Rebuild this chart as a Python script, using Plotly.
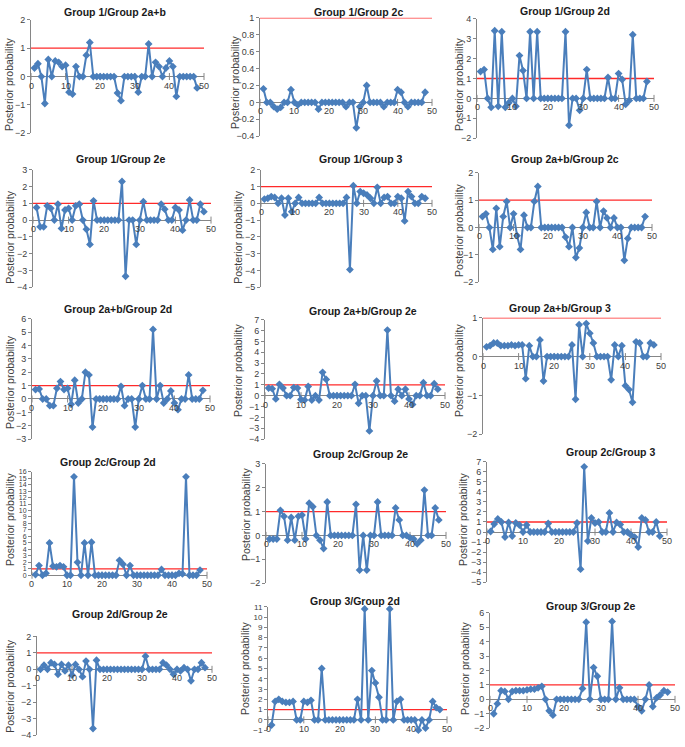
import plotly.graph_objects as go

# ---------------- data ----------------
x_index = list(range(1, 49))
x_ticks = [0, 10, 20, 30, 40, 50]
threshold = 1.0

titles = [
    "Group 1/Group 2a+b", "Group 1/Group 2c", "Group 1/Group 2d",
    "Group 1/Group 2e", "Group 1/Group 3", "Group 2a+b/Group 2c",
    "Group 2a+b/Group 2d", "Group 2a+b/Group 2e", "Group 2a+b/Group 3",
    "Group 2c/Group 2d", "Group 2c/Group 2e", "Group 2c/Group 3",
    "Group 2d/Group 2e", "Group 3/Group 2d", "Group 3/Group 2e",
]

Z7 = [0, 0, 0, 0, 0, 0, 0]

g1_g2ab = [0.3, 0.45, 0, -0.95, 0.6, 0, 0.55, 0.5, 0.35, 0.4, -0.55, -0.62, 0.35, 0, 0, 0.75, 1.2] + Z7 + \
          [-0.58, -0.85, 0, 0, 0, 0, -0.55, 0, 0, 1.15, 0, 0.5, 0.35, 0, 0.3, 0.55, 0.35, -0.7, 0, 0, 0, 0, 0, -0.4]
g1_g2c = [0.16, 0, 0, -0.05, -0.08, -0.06, 0, 0, 0.15, 0, -0.03, 0, 0, 0, 0, 0, -0.08] + Z7 + \
         [-0.05, 0, 0, -0.3, -0.05, 0, 0.2, 0, 0, 0, 0, -0.05, 0, 0, 0, 0.15, 0.12, 0, -0.05, 0, 0, 0, 0, 0.12]
g1_g2d = [1.35, 1.45, 0, -0.45, 3.4, -0.4, 3.35, -0.45, -0.22, 0, -0.4, 2.15, 1.4, 0, 3.35, 0, 3.35] + Z7 + \
         [3.35, -1.35, 0, 0, -0.6, 0, 1.45, 0, 0, 0, 0, 0, 1.05, 0, 0, 1.25, 0.95, -0.3, -0.1, 3.2, 0, 0, 0, 0.85]
g1_g2e = [0.75, -0.4, -0.4, 0.85, 0.7, 0, 0.95, -0.5, 0.6, 0.7, 0, 0.85, 0.95, 0, -0.55, -1.45, 1.15] + Z7 + \
         [2.3, -3.35, 0, 0, -1.45, 0, 1.1, 0, 0, 0, 0, 0.95, 0.65, 0, 0, 0.75, 0.6, -0.6, 0, 1.2, 0, 0, 0.95, 0.5]
g1_g3 = [0.25, 0.3, 0.4, 0.35, 0, 0.3, -0.7, 0.3, -0.5, 0, 0.35, 0, 0, 0, 0, 0, 0.35] + Z7 + \
        [0.35, -3.95, 1.05, 0, 0.7, 0.6, 0.5, 0.3, 0, 0.95, 0, 0.35, 0.4, 0, 0, 0.4, 0.3, -1.05, 0.7, 0.4, 0, 0, 0.4, 0.3]
g2ab_g2c = [0.4, 0.5, 0, -0.8, 0.7, -0.7, 0.4, 0.95, 0, 0.5, -0.3, -0.8, 0.45, 0, 0, 0.95, 1.5] + Z7 + \
           [-0.35, -0.7, 0, -1.1, -0.75, 0, 0.55, 0, 0, 0.95, 0, 0.6, 0.35, 0, 0.35, 0, 0, -1.2, -0.4, 0, 0, 0, 0, 0.4]
g2ab_g2d = [0.7, 0.75, 0, 0, -0.5, -0.5, 0.8, 1.3, 0.7, 0.8, -0.4, 1.4, -0.3, 0, 2.0, 1.8, -2.1] + Z7 + \
           [0.95, -0.5, 0, 0, -2.1, 0, 1.0, 0, 0, 5.2, 0, 1.0, -0.3, 0, 0.6, -0.3, -0.8, 0, 0, 1.8, 0, 0, 0, 0.65]
g2ab_g2e = [0.7, 0.65, -0.3, 1.05, 0.7, 0, 0, 0.75, 0.7, -0.35, -0.4, 0.85, -0.4, 0, -0.4, 2.15, 1.5] + Z7 + \
           [1.05, -0.7, 0, 0, -3.25, 0, 1.35, 0, 0, 6.05, 0, -0.5, 0.6, 0, 0.6, -0.3, -0.8, 0, 0, 1.2, 0, 0, 1.1, 0.6]
g2ab_g3 = [0.25, 0.28, 0.35, 0.35, 0.28, 0.28, 0.28, 0.3, 0.28, 0.3, 0.3, -0.57, 0.28, 0, 0, 0.43, -0.63] + Z7 + \
          [0.3, -1.1, 0.82, 0, 0.85, 0.6, 0.35, 0, 0, 0, 0, -0.6, 0.3, 0, 0.28, -0.75, -0.85, -1.18, 0.38, 0.35, 0, 0, 0.35, 0.3]
g2c_g2d = [0.1, 1.5, 0, 0.3, 5.0, 1.4, 1.3, 1.5, 1.3, 0, 0, 15.2, 2.0, 0, 5.0, 0, 5.1] + Z7 + \
          [2.3, 1.7, 0, 1.5, 0, 0, 0, 0, 0, 0, 0, 0, 0.9, 0, 0, 0, 0, 0.3, 0.2, 15.2, 0, 0, 0, 0.8]
g2c_g2e = [-0.15, -0.15, -0.15, 1.05, 0.8, -0.2, 0.75, -0.2, 0.8, 0.85, -0.15, 1.35, 1.2, 0, -0.2, -0.55, 1.4] + Z7 + \
          [1.3, -1.45, 0, -1.45, 0, 0, 1.4, 0, 0, 0, 0, 1.15, 0.65, 0, 0, -0.1, -0.15, -0.35, -0.2, 1.9, 0, 0, 1.15, 0.65]
g2c_g3 = [0.05, 0.8, 1.3, 1.0, -0.5, 0.95, -0.4, 0.9, 0.7, 0, 0.7, 0, 0, 0, 0, 0, 0.85] + Z7 + \
         [0.9, -3.7, 6.5, -0.9, 1.4, 0.9, 1.0, 0, 0, 1.9, 0, 0.95, 0.75, 0, 0, -0.3, -0.5, -1.5, 1.4, 1.2, 0, 0, 1.0, -0.4]
g2d_g2e = [0, 0.25, 0, 0.4, 0.3, -0.3, 0.3, -0.1, 0.25, -0.35, 0.3, 0, -0.45, 0.5, 0, -3.6, 0.55] + Z7 + \
          [0, 0, 0, 0, 0, 0, 0.8, 0, 0, 0, 0, 0.4, 0.25, 0, -0.3, 0, -0.1, 0.1, 0, -0.7, 0, 0, 0.4, 0.1]
g3_g2d = [-0.5, 1.8, 2.0, 1.8, 1.7, 1.7, 1.8, 0, 0, 1.8, 1.7, 1.9, 0, 0, 5.0, 0, 0] + Z7 + \
         [2.0, 0, 10.8, 0, 4.8, 3.6, 2.2, 0, 0, 10.8, 0, 1.8, 2.0, 0, 0, 0, 0, -1.0, 0, -0.8, 0, 1.8, 1.2, 1.0]
g3_g2e = [-1.0, -0.3, 0.6, 0.55, 0, 0.55, 0.6, 0.6, 0.6, 0.65, 0.7, 0.7, 0.8, 0.9, 0, -0.8, -1.1] + Z7 + \
         [0.75, 5.35, 0, 2.2, 1.6, 0, 0, 0, 5.4, 0, 0.8, 0, 0, 0, 0, -0.5, -0.8, 0, 1.0, -0.5, 0.1, 0.3, 0.6, 0.5]

series = [g1_g2ab, g1_g2c, g1_g2d, g1_g2e, g1_g3, g2ab_g2c, g2ab_g2d, g2ab_g2e,
          g2ab_g3, g2c_g2d, g2c_g2e, g2c_g3, g2d_g2e, g3_g2d, g3_g2e]

# ---------------- layout spec ----------------
y_ranges = [(-2, 2), (-0.4, 1), (-2, 4), (-4, 3), (-5, 2), (-2, 2), (-3, 6), (-4, 7), (-2, 1),
            (0, 16), (-2, 3), (-5, 7), (-4, 2), (-1, 11), (-2, 6)]
y_dticks = [1, 0.2, 1, 1, 1, 1, 1, 1, 1, 1, 1, 1, 1, 1, 1]
ytick_sizes = [9, 9, 9, 9, 9, 9, 9, 9, 9, 7, 9, 9, 9, 8, 9]

W, H = 685, 747
# (left px, right px, top px, bottom px) of each plot area
geom = [
    (31, 204, 15, 130), (260, 432, 13, 133), (477, 654, 14, 135),
    (33, 211, 167, 286), (261, 432, 167, 286), (479, 652, 170, 281),
    (32, 210, 318, 440), (265, 445, 319, 440), (483, 661, 317, 435),
    (32, 207, 473, 578), (266, 446, 465, 586), (487, 667, 463, 585),
    (37, 212, 640, 740), (268, 447, 610, 735), (490, 675, 616, 733),
]
title_pos = [(115, 7), (358, 7), (565, 6), (120, 156), (361, 156), (565, 156),
             (118, 308), (363, 310), (560, 307), (108, 463), (361, 455), (610, 453),
             (120, 617), (355, 604), (590, 609)]
ytitle_pos = [(9, 80), (235, 78), (459, 80), (10, 235), (238, 235), (459, 228),
              (10, 382), (238, 370), (459, 370), (10, 521), (246, 516), (463, 521),
              (10, 690), (245, 672), (465, 672)]

BLUE = "#4a7ebb"
RED = "#ff2a2a"
AXIS = "#868686"
FONT = "Liberation Sans, Arial, sans-serif"

fig = go.Figure()
layout = dict(width=W, height=H, margin=dict(l=0, r=0, t=0, b=0), autosize=False,
              paper_bgcolor="white", plot_bgcolor="white", showlegend=False,
              font=dict(family=FONT, color="#404040"))
annotations = []

for i in range(15):
    n = i + 1
    xa = "x" if n == 1 else f"x{n}"
    ya = "y" if n == 1 else f"y{n}"
    xk = "xaxis" if n == 1 else f"xaxis{n}"
    yk = "yaxis" if n == 1 else f"yaxis{n}"
    L, R, T, B = geom[i]
    layout[xk] = dict(domain=[L / W, R / W], range=[0, 50], visible=False, anchor=ya)
    layout[yk] = dict(domain=[1 - B / H, 1 - T / H], range=list(y_ranges[i]), dtick=y_dticks[i],
                      anchor=xa, showline=True, linecolor=AXIS, linewidth=1,
                      ticks="outside", ticklen=3, tickcolor=AXIS,
                      tickfont=dict(size=ytick_sizes[i], color="#404040", family=FONT),
                      showgrid=False, zeroline=True, zerolinecolor=AXIS, zerolinewidth=1)
    # threshold line
    fig.add_trace(go.Scatter(x=[x_ticks[0], x_ticks[-1]], y=[threshold, threshold], mode="lines",
                             line=dict(color=RED, width=1.3), xaxis=xa, yaxis=ya, hoverinfo="skip"))
    # x tick marks on zero line
    fig.add_trace(go.Scatter(x=x_ticks, y=[0] * len(x_ticks), mode="markers",
                             marker=dict(symbol="line-ns", size=5, line=dict(color=AXIS, width=1)),
                             xaxis=xa, yaxis=ya, hoverinfo="skip", cliponaxis=False))
    # data series
    fig.add_trace(go.Scatter(x=x_index, y=series[i], mode="lines+markers",
                             line=dict(color=BLUE, width=2),
                             marker=dict(symbol="diamond", size=6, color=BLUE),
                             xaxis=xa, yaxis=ya, cliponaxis=False))
    for t in x_ticks:
        annotations.append(dict(x=t, y=0, xref=xa, yref=ya, text=str(t), showarrow=False,
                                yanchor="top", xanchor="center", yshift=-2,
                                font=dict(size=9, color="#404040", family=FONT)))
    tx, ty = title_pos[i]
    annotations.append(dict(x=tx / W, y=1 - ty / H, xref="paper", yref="paper", text="<b>" + titles[i] + "</b>",
                            showarrow=False, xanchor="center", yanchor="middle",
                            font=dict(size=10.5, color="#1a1a1a", family=FONT)))
    px_, py_ = ytitle_pos[i]
    annotations.append(dict(x=px_ / W, y=1 - py_ / H, xref="paper", yref="paper", text="Posterior probability",
                            showarrow=False, textangle=-90, xanchor="center", yanchor="middle",
                            font=dict(size=10.5, color="#404040", family=FONT)))

layout["annotations"] = annotations
fig.update_layout(**layout)
fig.write_html("out.html", config={"displayModeBar": False},
               post_script="document.body.style.margin='0px';document.body.style.padding='0px';"
                           "document.body.style.overflow='hidden';")
